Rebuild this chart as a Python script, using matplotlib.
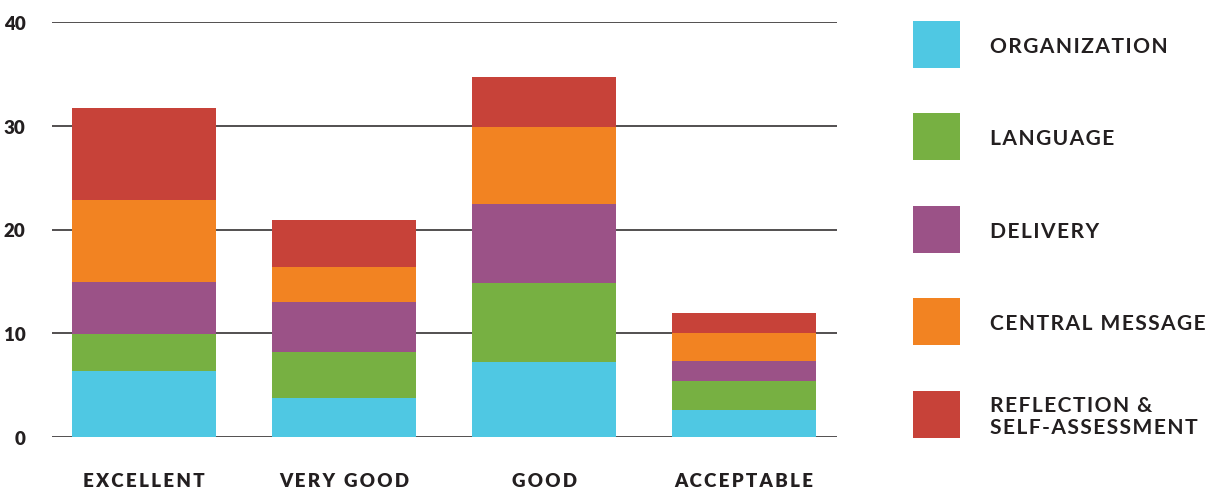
import matplotlib
matplotlib.use("Agg")
import matplotlib.pyplot as plt
from matplotlib.patches import Rectangle
import numpy as np

categories = ["EXCELLENT", "VERY GOOD", "GOOD", "ACCEPTABLE"]
series_names = ["ORGANIZATION", "LANGUAGE", "DELIVERY", "CENTRAL MESSAGE",
                "REFLECTION &\nSELF-ASSESSMENT"]
organization = [6.4, 3.8, 7.25, 2.6]
language = [3.5, 4.4, 7.6, 2.8]
delivery = [5.05, 4.8, 7.6, 1.9]
central_message = [7.85, 3.4, 7.4, 2.7]
reflection = [8.9, 4.5, 4.85, 1.95]
y_ticks = [0, 10, 20, 30, 40]

colors = ["#4FC8E3", "#77B042", "#9B5287", "#F28322", "#C74239"]
series = [organization, language, delivery, central_message, reflection]

TXT = "#231F20"
FONT = ["Lato", "DejaVu Sans"]


def spaced(s, sp="\u200a"):
    return "\n".join(sp.join(list(line)) for line in s.split("\n"))


fig = plt.figure(figsize=(12.15, 4.89), dpi=100)
ax = fig.add_axes([52 / 1215, 1 - 438.3 / 489, (837 - 52) / 1215, (438.3 - 22.7) / 489])

x = np.arange(len(categories))
bottom = np.zeros(len(categories))
for vals, c in zip(series, colors):
    ax.bar(x, vals, width=0.72, bottom=bottom, color=c, zorder=3, linewidth=0)
    bottom += np.array(vals)

ax.set_xlim(-0.46, 3.465)
ax.set_ylim(0, 40)
ax.yaxis.grid(True, color="#231F20", linewidth=1.1, zorder=0)
ax.set_axisbelow(True)
for s in ax.spines.values():
    s.set_visible(False)
ax.tick_params(axis="both", length=0)
ax.tick_params(axis="y", pad=19)
ax.tick_params(axis="x", pad=25)
ax.set_yticks(y_ticks, [str(v) for v in y_ticks], fontsize=13.5, fontweight="heavy",
              color=TXT, family=FONT)
ax.set_xticks(x, [spaced(c, "\u200a\u200a") for c in categories], fontsize=13.5,
              fontweight="heavy", color=TXT, family=FONT)

# legend
tops = [22, 114, 207, 299, 392]
for name, c, t in zip(series_names, colors, tops):
    fig.patches.append(Rectangle((913 / 1215, 1 - (t + 47) / 489), 47 / 1215, 47 / 489,
                                 transform=fig.transFigure, facecolor=c, edgecolor="none"))
    fig.text(990 / 1215, 1 - (t + 25) / 489, spaced(name), fontsize=15.1,
             fontweight="bold", color=TXT, family=FONT, va="center", ha="left",
             linespacing=1.08)

fig.savefig("out.png", dpi=100)
